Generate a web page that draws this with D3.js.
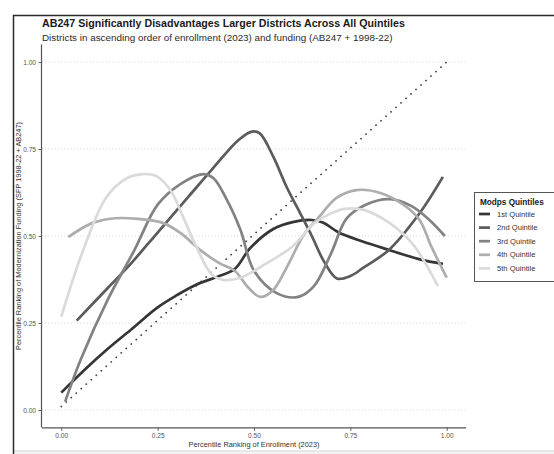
<!DOCTYPE html>
<html>
<head>
<meta charset="utf-8">
<script src="https://cdn.jsdelivr.net/npm/d3@7"></script>
<style>
  html, body { margin: 0; padding: 0; background: #fff; }
  svg { display: block; font-family: "Liberation Sans", Arial, Helvetica, sans-serif; }
</style>
</head>
<body>
<svg id="chart" width="554" height="454"></svg>
<script>
// Smoothed percentile-rank curves per Modps quintile
const quintiles = ["1st Quintile", "2nd Quintile", "3rd Quintile", "4th Quintile", "5th Quintile"];
const quintileColors = ["#353535", "#5b5b5b", "#828282", "#adadad", "#dadada"];

const q1X = [0.00, 0.06, 0.12, 0.18, 0.25, 0.30, 0.35, 0.41, 0.45, 0.49, 0.55, 0.60, 0.65, 0.68, 0.72, 0.78, 0.85, 0.93, 0.99];
const q1Y = [0.05, 0.115, 0.175, 0.23, 0.295, 0.33, 0.36, 0.385, 0.405, 0.465, 0.52, 0.54, 0.546, 0.538, 0.51, 0.485, 0.46, 0.433, 0.42];

const q2X = [0.04, 0.12, 0.18, 0.25, 0.33, 0.39, 0.46, 0.495, 0.515, 0.55, 0.585, 0.62, 0.65, 0.68, 0.715, 0.75, 0.785, 0.85, 0.93, 0.99];
const q2Y = [0.257, 0.35, 0.42, 0.51, 0.613, 0.69, 0.776, 0.80, 0.795, 0.728, 0.64, 0.565, 0.50, 0.43, 0.378, 0.385, 0.41, 0.46, 0.566, 0.67];

const q3X = [0.01, 0.05, 0.12, 0.19, 0.25, 0.31, 0.368, 0.395, 0.43, 0.465, 0.50, 0.56, 0.615, 0.655, 0.70, 0.74, 0.79, 0.853, 0.91, 0.955, 0.995];
const q3Y = [0.024, 0.144, 0.316, 0.46, 0.59, 0.65, 0.678, 0.666, 0.603, 0.517, 0.40, 0.335, 0.325, 0.355, 0.45, 0.55, 0.59, 0.606, 0.585, 0.546, 0.50];

const q4X = [0.018, 0.08, 0.14, 0.20, 0.265, 0.31, 0.36, 0.41, 0.45, 0.485, 0.516, 0.55, 0.585, 0.63, 0.665, 0.715, 0.765, 0.83, 0.895, 0.93, 0.96, 1.00];
const q4Y = [0.497, 0.537, 0.551, 0.549, 0.537, 0.508, 0.46, 0.422, 0.40, 0.352, 0.325, 0.345, 0.41, 0.505, 0.55, 0.61, 0.632, 0.623, 0.584, 0.545, 0.47, 0.38];

const q5X = [0.00, 0.057, 0.118, 0.17, 0.213, 0.247, 0.283, 0.316, 0.35, 0.39, 0.42, 0.465, 0.53, 0.60, 0.655, 0.70, 0.735, 0.785, 0.853, 0.913, 0.977];
const q5Y = [0.268, 0.46, 0.613, 0.666, 0.678, 0.672, 0.632, 0.555, 0.47, 0.39, 0.374, 0.38, 0.42, 0.47, 0.535, 0.565, 0.578, 0.575, 0.536, 0.475, 0.356];

// Reference line of equal rank
const refX = [0.0, 1.0];
const refY = [0.01, 1.0];

const xTicks = [0, 0.25, 0.5, 0.75, 1.0];
const yTicks = [0, 0.25, 0.5, 0.75, 1.0];

const titleText = "AB247 Significantly Disadvantages Larger Districts Across All Quintiles";
const subtitleText = "Districts in ascending order of enrollment (2023) and funding (AB247 + 1998-22)";
const xTitle = "Percentile Ranking of Enrollment (2023)";
const yTitle = "Percentile Ranking of Modernization Funding (SFP 1998-22 + AB247)";
const legendTitle = "Modps Quintiles";

const seriesX = [q1X, q2X, q3X, q4X, q5X];
const seriesY = [q1Y, q2Y, q3Y, q4Y, q5Y];

const svg = d3.select("#chart");

// Outer frame (top and left edges, faint bottom rule)
svg.append("rect").attr("x", 13).attr("y", 451).attr("width", 541).attr("height", 3).attr("fill", "#f3f3f3");
svg.append("line").attr("x1", 13).attr("x2", 554).attr("y1", 451).attr("y2", 451)
  .attr("stroke", "#d6d6d6").attr("stroke-width", 1);
svg.append("line").attr("x1", 13).attr("x2", 554).attr("y1", 15.5).attr("y2", 15.5)
  .attr("stroke", "#2a2a2a").attr("stroke-width", 1.3);
svg.append("line").attr("x1", 13.5).attr("x2", 13.5).attr("y1", 15).attr("y2", 454)
  .attr("stroke", "#2a2a2a").attr("stroke-width", 1.5);

// Panel geometry
const panel = { left: 42, right: 466, top: 44.6, bottom: 427.4 };
const x = d3.scaleLinear().domain([-0.05, 1.05]).range([panel.left, panel.right]);
const y = d3.scaleLinear().domain([-0.05, 1.05]).range([panel.bottom, panel.top]);

// Horizontal dotted grid
svg.append("g").selectAll("line").data(yTicks).join("line")
  .attr("x1", panel.left).attr("x2", panel.right)
  .attr("y1", d => y(d)).attr("y2", d => y(d))
  .attr("stroke", "#c8c8c8").attr("stroke-width", 0.8)
  .attr("stroke-dasharray", "1,2.2");

// Axes
const axisColor = "#555";
const xAxis = svg.append("g").attr("transform", `translate(0,${panel.bottom})`)
  .call(d3.axisBottom(x).tickValues(xTicks).tickFormat(d3.format(".2f")).tickSize(3.5).tickPadding(2.5));
const yAxis = svg.append("g").attr("transform", `translate(${panel.left},0)`)
  .call(d3.axisLeft(y).tickValues(yTicks).tickFormat(d3.format(".2f")).tickSize(3.5).tickPadding(2.5));
[xAxis, yAxis].forEach(g => {
  g.select(".domain").attr("stroke", axisColor).attr("stroke-width", 1.2);
  g.selectAll(".tick line").attr("stroke", axisColor).attr("stroke-width", 0.9);
  g.selectAll(".tick text").attr("fill", "#555").style("font-size", "6.6px")
    .style("font-family", "'Liberation Sans', Arial, sans-serif");
});
// axisBottom draws an outer tick; keep the domain a plain line
xAxis.select(".domain").attr("d", `M${panel.left},0.5H${panel.right}`);
yAxis.select(".domain").attr("d", `M-0.5,${panel.bottom}V${panel.top}`);

// Axis titles
svg.append("text").attr("x", (panel.left + panel.right) / 2).attr("y", 446.5)
  .attr("text-anchor", "middle").attr("fill", "#333").style("font-size", "7.4px").text(xTitle);
svg.append("text")
  .attr("transform", `translate(20.5,${(panel.top + panel.bottom) / 2}) rotate(-90)`)
  .attr("text-anchor", "middle").attr("fill", "#333").style("font-size", "7.4px").text(yTitle);

// Reference diagonal
const line = d3.line().x(d => x(d[0])).y(d => y(d[1]));
svg.append("path").datum(refX.map((v, i) => [v, refY[i]]))
  .attr("d", line)
  .attr("fill", "none").attr("stroke", "#3a3a3a").attr("stroke-width", 1.7)
  .attr("stroke-linecap", "round").attr("stroke-dasharray", "0.1,6.6");

// Smoothed quintile curves
const smooth = d3.line().x(d => x(d[0])).y(d => y(d[1])).curve(d3.curveCatmullRom.alpha(0.5));
svg.append("g").selectAll("path").data(quintiles).join("path")
  .attr("d", (q, i) => smooth(seriesX[i].map((v, j) => [v, seriesY[i][j]])))
  .attr("fill", "none")
  .attr("stroke", (q, i) => quintileColors[i])
  .attr("stroke-width", 2.7)
  .attr("stroke-linejoin", "round");

// Title and subtitle, sized to their measured widths
function fitText(sel, targetWidth) {
  const w = sel.node().getComputedTextLength();
  const fs = parseFloat(sel.style("font-size"));
  sel.style("font-size", (fs * targetWidth / w).toFixed(2) + "px");
}
const title = svg.append("text").attr("x", 42).attr("y", 26.5)
  .attr("fill", "#1a1a1a").style("font-weight", "bold").style("font-size", "11px").text(titleText);
fitText(title, 363);
const subtitle = svg.append("text").attr("x", 42).attr("y", 40.5)
  .attr("fill", "#2a2a2a").style("font-size", "9px").text(subtitleText);
fitText(subtitle, 351);

// Legend
const lg = svg.append("g").attr("transform", "translate(474,192)");
lg.append("rect").attr("x", 0.5).attr("y", 0.5).attr("width", 100).attr("height", 89)
  .attr("fill", "#fff").attr("stroke", "#555").attr("stroke-width", 1);
lg.append("text").attr("x", 6).attr("y", 12.5).attr("fill", "#1a1a1a")
  .style("font-weight", "bold").style("font-size", "8.2px").text(legendTitle);
const items = lg.selectAll("g.item").data(quintiles).join("g").attr("class", "item")
  .attr("transform", (d, i) => `translate(0,${22 + i * 13.6})`);
items.append("line").attr("x1", 5).attr("x2", 16).attr("y1", 0).attr("y2", 0)
  .attr("stroke", (d, i) => quintileColors[i]).attr("stroke-width", 2.7);
items.append("text").attr("x", 23).attr("y", 2.6).attr("fill", "#333")
  .style("font-size", "7.6px").text(d => d);
</script>
</body>
</html>
